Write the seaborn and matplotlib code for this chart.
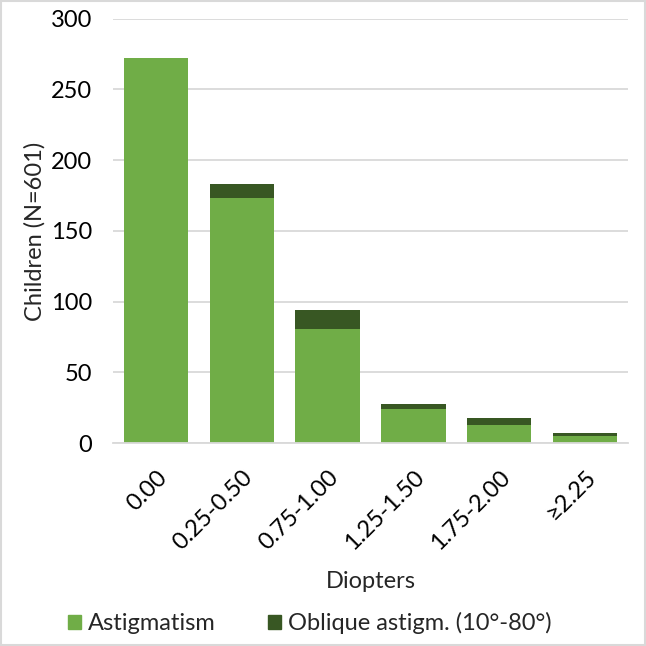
import matplotlib
matplotlib.use("Agg")
import matplotlib.pyplot as plt
import seaborn as sns
import pandas as pd
from matplotlib.patches import Rectangle, Patch

# data
categories = ['0.00', '0.25-0.50', '0.75-1.00', '1.25-1.50', '1.75-2.00', '≥2.25']
astigmatism = [272, 173, 81, 24, 13, 5]
oblique = [0, 10, 13, 4, 5, 2]

df = pd.DataFrame({'cat': categories, 'astig': astigmatism, 'obl': oblique})
df['total'] = df['astig'] + df['obl']

light = '#70AD47'
dark = '#385723'

sns.set_style('white')
plt.rcParams['font.family'] = ['Lato', 'DejaVu Sans']

fig = plt.figure(figsize=(6.46, 6.46), dpi=100)
ax = fig.add_axes([0.175, 0.314, 0.797, 0.657])

# total in dark first, light part drawn over it
sns.barplot(data=df, x='cat', y='total', color=dark, saturation=1, width=0.75,
            linewidth=0, ax=ax)
sns.barplot(data=df, x='cat', y='astig', color=light, saturation=1, width=0.75,
            linewidth=0, ax=ax)

ax.set_ylim(0, 300)
ax.set_yticks(range(0, 301, 50))
ax.yaxis.grid(True, color='#d9d9d9', linewidth=1.3)
ax.set_axisbelow(True)
for s in ['top', 'right', 'left']:
    ax.spines[s].set_visible(False)
ax.spines['bottom'].set_color('#d9d9d9')
ax.spines['bottom'].set_linewidth(1.3)
ax.tick_params(axis='both', length=0, labelsize=17, colors='#000000')
ax.tick_params(axis='y', pad=15)
ax.tick_params(axis='x', pad=17)
plt.setp(ax.get_xticklabels(), rotation=45, ha='right', rotation_mode='anchor')

ax.set_xlabel('Diopters', fontsize=17, labelpad=12)
ax.set_ylabel('Children (N=601)', fontsize=17, labelpad=4)

handles = [Patch(color=light, label='Astigmatism'),
           Patch(color=dark, label='Oblique astigm. (10°-80°)')]
fig.legend(handles=handles, loc='lower center', bbox_to_anchor=(0.48, -0.015), ncol=2,
           frameon=False, fontsize=17, handlelength=0.55, handleheight=0.55,
           handletextpad=0.3, columnspacing=2.2)

fig.patches.append(Rectangle((0.002, 0.002), 0.996, 0.996, transform=fig.transFigure,
                             fill=False, edgecolor='#d9d9d9', linewidth=1.5))

fig.savefig('out.png', dpi=100)
